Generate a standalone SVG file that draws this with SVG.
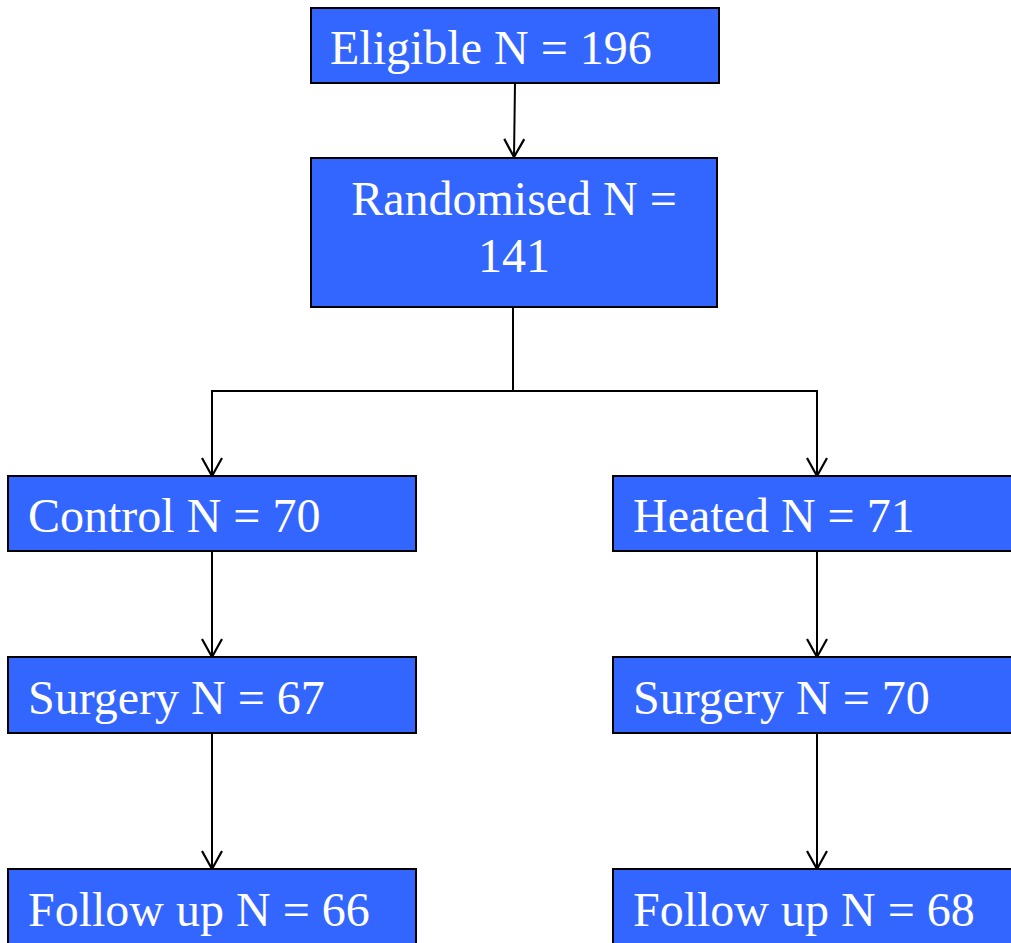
<svg xmlns="http://www.w3.org/2000/svg" width="1011" height="943" viewBox="0 0 1011 943">
<defs>
<style>
.box{fill:#3366FF;stroke:#000;stroke-width:2}
.t{font-family:"Liberation Serif","Times New Roman",serif;font-size:48px;fill:#fff}
.c{fill:none;stroke:#000;stroke-width:2}
</style>
<marker id="arr" markerUnits="userSpaceOnUse" markerWidth="24" markerHeight="24" viewBox="-12 -20 24 24" refX="0" refY="0" orient="auto-start-reverse" overflow="visible">
<path d="M-10,-18 L0,0 L10,-18" fill="none" stroke="#000" stroke-width="2.2" transform="rotate(-90)"/>
</marker>
</defs>
<rect width="1011" height="943" fill="#fff"/>
<g id="connectors">
<path class="c" d="M515,83 L514,157" marker-end="url(#arr)"/>
<path class="c" d="M513,307 L513,391"/>
<path class="c" d="M212,476 L212,391 L817,391 L817,476" marker-start="url(#arr)" marker-end="url(#arr)"/>
<path class="c" d="M212,551 L212,657" marker-end="url(#arr)"/>
<path class="c" d="M817,551 L817,657" marker-end="url(#arr)"/>
<path class="c" d="M212,733 L212,869" marker-end="url(#arr)"/>
<path class="c" d="M817,733 L817,869" marker-end="url(#arr)"/>
</g>
<g id="eligible">
<rect class="box" x="311" y="8" width="408" height="75"/>
<text class="t" x="330" y="64">Eligible N = 196</text>
</g>
<g id="randomised">
<rect class="box" x="311" y="158" width="406" height="149"/>
<text class="t" x="514" y="215" text-anchor="middle">Randomised N =</text>
<text class="t" x="514" y="272" text-anchor="middle">141</text>
</g>
<g id="control">
<rect class="box" x="8" y="476" width="408" height="75"/>
<text class="t" x="28" y="532">Control N = 70</text>
</g>
<g id="heated">
<rect class="box" x="613" y="476" width="408" height="75"/>
<text class="t" x="633" y="532">Heated N = 71</text>
</g>
<g id="surgery-control">
<rect class="box" x="8" y="657" width="408" height="76"/>
<text class="t" x="28" y="714">Surgery N = 67</text>
</g>
<g id="surgery-heated">
<rect class="box" x="613" y="657" width="408" height="76"/>
<text class="t" x="633" y="714">Surgery N = 70</text>
</g>
<g id="followup-control">
<rect class="box" x="8" y="869" width="408" height="80"/>
<text class="t" x="28" y="926">Follow up N = 66</text>
</g>
<g id="followup-heated">
<rect class="box" x="613" y="869" width="408" height="80"/>
<text class="t" x="633" y="926">Follow up N = 68</text>
</g>
</svg>
